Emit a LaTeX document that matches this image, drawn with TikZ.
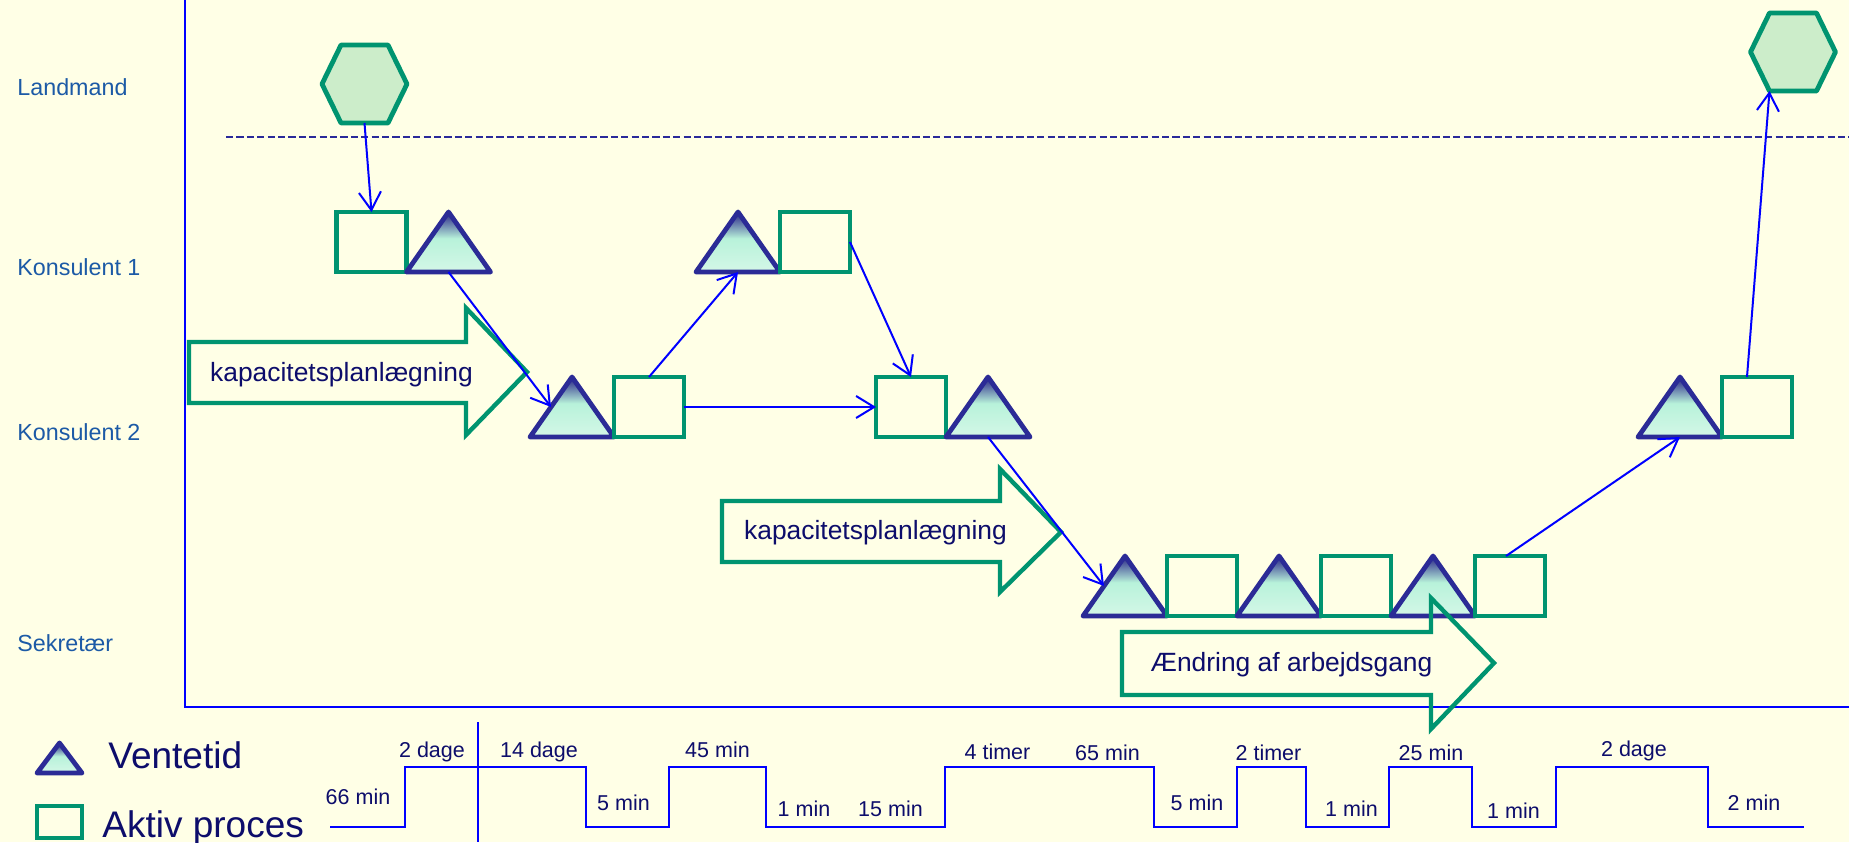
\documentclass[tikz,border=0pt]{standalone}
\usepackage{fontspec}
\setmainfont{Liberation Sans}
\usetikzlibrary{arrows.meta,calc}
\definecolor{bgcol}{HTML}{FFFFE6}
\definecolor{grn}{HTML}{009470}
\definecolor{hexfill}{HTML}{CCEDCA}
\definecolor{trib}{HTML}{2B2B96}
\definecolor{triTop}{HTML}{34348F}
\definecolor{triMid}{HTML}{B8F2DA}
\definecolor{triLo}{HTML}{D4F7E7}
\definecolor{conncol}{HTML}{0000FF}
\definecolor{navy}{HTML}{0D0D6B}
\definecolor{lanecol}{HTML}{1C5AA6}
\definecolor{dashcol}{HTML}{2A2A9A}
\pgfdeclareverticalshading{trishade}{100bp}{color(0bp)=(triLo); color(25bp)=(triLo); color(53bp)=(triMid); color(73bp)=(triTop); color(100bp)=(triTop)}
\tikzset{
  box/.style={draw=grn, line width=2.4pt, minimum width=35pt, minimum height=30pt, inner sep=0pt, outer sep=0pt},
  trinode/.style={minimum width=42pt, minimum height=30pt, inner sep=0pt, outer sep=0pt},
  hexnode/.style={minimum width=42.5pt, minimum height=39pt, inner sep=0pt, outer sep=0pt},
  trishape/.style={draw=trib, line width=2.4pt, line join=round, shade, shading=trishade},
  hexshape/.style={draw=grn, fill=hexfill, line width=2.4pt, line join=round},
  blockarrow/.style={draw=grn, line width=2.2pt, line join=miter},
  flowarrow/.style={draw=conncol, line width=1pt, -{Straight Barb[length=9pt,width=11pt,line width=1pt]}},
  axisline/.style={draw=conncol, line width=1pt},
  laneLabel/.style={font=\fontsize{11.65}{14}\selectfont, text=lanecol, anchor=west, inner sep=0pt},
  arrowtext/.style={font=\fontsize{13.2}{16}\selectfont, text=navy, inner sep=0pt},
  tlabel/.style={font=\fontsize{10.75}{13}\selectfont, text=navy, anchor=base, inner sep=0pt},
  legendtext/.style={font=\fontsize{18.5}{22}\selectfont, text=navy, anchor=base west, inner sep=0pt}
}
\newcommand\mktri[3]{\node[trinode] (#1) at (#2,#3) {};
  \path[trishape] (#1.south west) -- (#1.north) -- (#1.south east) -- cycle;}
\newcommand\mkhex[3]{\node[hexnode] (#1) at (#2,#3) {};
  \path[hexshape] (#1.west) -- ([xshift=9.5pt]#1.north west) -- ([xshift=-9.5pt]#1.north east) -- (#1.east) -- ([xshift=-9.5pt]#1.south east) -- ([xshift=9.5pt]#1.south west) -- cycle;}
\begin{document}
\begin{tikzpicture}[x=0.5pt,y=-0.5pt]
\useasboundingbox (0,0) rectangle (1849,842);
\fill[bgcol] (0,0) rectangle (1849,842);
% axes
\draw[axisline] (185,0) -- (185,707) -- (1849,707);
\draw[draw=dashcol, line width=1pt, dash pattern=on 3.6pt off 1.6pt] (226,137) -- (1849,137);
% lane labels
\node[laneLabel] (L1) at (17,87) {Landmand};
\node[laneLabel] (L2) at (17,267) {Konsulent 1};
\node[laneLabel] (L3) at (17,432) {Konsulent 2};
\node[laneLabel] (L4) at (17,643) {Sekretær};
% timeline
\draw[axisline] (330,827) -- (405,827) -- (405,767) -- (586,767) -- (586,827) -- (669,827) -- (669,767) -- (766,767) -- (766,827) -- (945,827) -- (945,767) -- (1154,767) -- (1154,827) -- (1237,827) -- (1237,767) -- (1306,767) -- (1306,827) -- (1389,827) -- (1389,767) -- (1472,767) -- (1472,827) -- (1556,827) -- (1556,767) -- (1708,767) -- (1708,827) -- (1804,827);
\draw[axisline] (478,722) -- (478,842);
\node[tlabel] (t1) at (358,804) {66 min};
\node[tlabel] (t2) at (432,757) {2 dage};
\node[tlabel] (t3) at (539,757) {14 dage};
\node[tlabel] (t4) at (623.5,810) {5 min};
\node[tlabel] (t5) at (717.5,757) {45 min};
\node[tlabel] (t6) at (804,816) {1 min};
\node[tlabel] (t7) at (890.5,816) {15 min};
\node[tlabel] (t8) at (997.5,759) {4 timer};
\node[tlabel] (t9) at (1107.5,760) {65 min};
\node[tlabel] (t10) at (1197,810) {5 min};
\node[tlabel] (t11) at (1268.5,760) {2 timer};
\node[tlabel] (t12) at (1351.5,816) {1 min};
\node[tlabel] (t13) at (1431,760) {25 min};
\node[tlabel] (t14) at (1513.5,818) {1 min};
\node[tlabel] (t15) at (1634,756) {2 dage};
\node[tlabel] (t16) at (1754,810) {2 min};
% legend
\path[trishape] (37,773) -- (59.5,743) -- (82,773) -- cycle;
\node[box, minimum width=22.5pt, minimum height=16pt] (LS) at (59.5,822) {};
\node[legendtext] (LT1) at (108,768) {Ventetid};
\node[legendtext] (LT2) at (102,837) {Aktiv proces};
% shapes
\mkhex{H1}{364.5}{84}
\mkhex{H2}{1793}{52}
\node[box] (S1) at (371.5,242) {};
\mktri{T1}{448.5}{242}
\mktri{T2}{738}{242}
\node[box] (S2) at (815,242) {};
\mktri{T3}{572}{407}
\node[box] (S3) at (649,407) {};
\node[box] (S4) at (911,407) {};
\mktri{T4}{988}{407}
\mktri{T5}{1680}{407}
\node[box] (S5) at (1757,407) {};
\mktri{T6}{1125}{586}
\node[box] (S6) at (1202,586) {};
\mktri{T7}{1279}{586}
\node[box] (S7) at (1356,586) {};
\mktri{T8}{1433}{586}
\node[box] (S8) at (1510,586) {};
% block arrows
\draw[blockarrow] (189,342) -- (466,342) -- (466,308) -- (527,372) -- (466,435) -- (466,403) -- (189,403) -- cycle;
\node[arrowtext] (A1) at (341.5,375) {kapacitetsplanlægning};
\draw[blockarrow] (722,501) -- (1000,501) -- (1000,469) -- (1061,532) -- (1000,592) -- (1000,562) -- (722,562) -- cycle;
\node[arrowtext] (A2) at (875.5,533) {kapacitetsplanlægning};
\draw[blockarrow] (1122,632) -- (1431,632) -- (1431,598) -- (1494,663) -- (1431,729) -- (1431,695) -- (1122,695) -- cycle;
\node[arrowtext] (A3) at (1291.5,665) {Ændring af arbejdsgang};
% connectors
\coordinate (H2bl) at ([xshift=9.5pt]H2.south west);
\coordinate (T3l) at ($(T3.south west)!0.5!(T3.north)$);
\coordinate (T6l) at ($(T6.south west)!0.5!(T6.north)$);
\draw[flowarrow] (H1.south) -- (S1.north);
\draw[flowarrow] (T1.south) -- (T3l);
\draw[flowarrow] (S3.north) -- (T2.south);
\draw[flowarrow] (S3.east) -- (S4.west);
\draw[flowarrow] (S2.east) -- (S4.north);
\draw[flowarrow] (T4.south) -- (T6l);
\draw[flowarrow] ([xshift=-2pt]S8.north) -- (T5.south);
\draw[flowarrow] ([xshift=-5pt]S5.north) -- (H2bl);
\end{tikzpicture}
\end{document}
